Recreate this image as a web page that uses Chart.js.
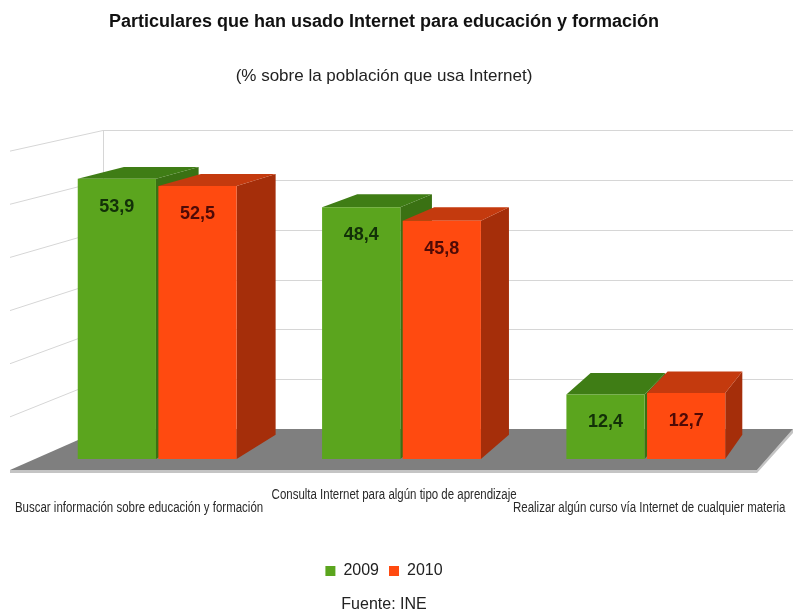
<!DOCTYPE html>
<html lang="es">
<head>
<meta charset="utf-8">
<title>Internet para educación y formación</title>
<script src="https://cdn.jsdelivr.net/npm/chart.js@4.4.1/dist/chart.umd.min.js"></script>
<style>
  html, body { margin: 0; padding: 0; background: #fff; }
</style>
</head>
<body>
<canvas id="chart" width="793" height="615"></canvas>
<script>
// Data
const categories = [
  'Buscar información sobre educación y formación',
  'Consulta Internet para algún tipo de aprendizaje',
  'Realizar algún curso vía Internet de cualquier materia'
];
const years = ['2009', '2010'];
const values2009 = [53.9, 48.4, 12.4];
const values2010 = [52.5, 45.8, 12.7];

// Colours for the front, top and right side of each bar
const palette = [
  { front: '#5ba51e', top: '#3f7d15', side: '#3a7113', text: '#123008' },
  { front: '#ff4a10', top: '#c43a0e', side: '#a52e0a', text: '#4f0a06' }
];

// Fake 3D: bar backs are pulled toward a vanishing point
const VP = { x: 1104, y: -82 };
const BAR_DEPTH = 0.955;
const back = (x, y) => [VP.x + (x - VP.x) * BAR_DEPTH, VP.y + (y - VP.y) * BAR_DEPTH];

const FONT = '"Liberation Sans", Arial, sans-serif';

function poly(ctx, pts, color) {
  ctx.beginPath();
  ctx.moveTo(pts[0][0], pts[0][1]);
  for (let i = 1; i < pts.length; i++) ctx.lineTo(pts[i][0], pts[i][1]);
  ctx.closePath();
  ctx.fillStyle = color;
  ctx.fill();
}

// Back wall, left wall and grey floor
function drawRoom(chart) {
  const { ctx, chartArea: a, scales: { y } } = chart;
  const base = y.getPixelForValue(0);
  const backY = v => base - 30 + (y.getPixelForValue(v) - base) * 0.958;
  const frontY = v => base + 11 + (y.getPixelForValue(v) - base) * 1.022;
  const wallX = a.left + 68, edgeX = a.left - 25;
  const floorRF = a.right - 11, floorRB = a.right + 25;

  ctx.save();
  ctx.strokeStyle = '#d6d6d6';
  ctx.lineWidth = 1;
  y.ticks.forEach(t => {
    if (t.value <= 0) return;
    const yb = Math.round(backY(t.value)) + 0.5;
    ctx.beginPath();
    ctx.moveTo(wallX, yb);
    ctx.lineTo(chart.width, yb);
    ctx.moveTo(edgeX, frontY(t.value));
    ctx.lineTo(wallX, yb);
    ctx.stroke();
  });
  ctx.beginPath();
  ctx.moveTo(Math.round(wallX) + 0.5, backY(y.max));
  ctx.lineTo(Math.round(wallX) + 0.5, backY(0));
  ctx.stroke();

  // floor edge, then floor
  poly(ctx, [[edgeX, base + 11], [floorRF, base + 11], [floorRB, base - 30],
             [floorRB, base - 26], [floorRF, base + 14], [edgeX, base + 14]], '#c4c4c4');
  poly(ctx, [[edgeX, base + 11], [floorRF, base + 11], [floorRB, base - 30], [wallX, base - 30]], '#7f7f7f');
  ctx.restore();
}

const bars3d = {
  id: 'bars3d',
  // Chart.js paints the last dataset first, so every top and side is laid
  // down here, left to right, before any front face.
  beforeDatasetsDraw(chart) {
    drawRoom(chart);
    const ctx = chart.ctx;
    const boxes = [];
    chart.data.datasets.forEach((ds, di) => {
      chart.getDatasetMeta(di).data.forEach(el => {
        const p = el.getProps(['x', 'y', 'base', 'width'], true);
        boxes.push({ ...p, col: palette[di] });
      });
    });
    boxes.sort((a, b) => a.x - b.x);
    ctx.save();
    boxes.forEach(({ x, y, base, width, col }) => {
      const l = x - width / 2, r = x + width / 2;
      poly(ctx, [[r, y], [r, base], back(r, base), back(r, y)], col.side);
      poly(ctx, [[l, y], [r, y], back(r, y), back(l, y)], col.top);
    });
    ctx.restore();
  },
  afterDatasetsDraw(chart) {
    const { ctx, scales: { x: xs, y: ys } } = chart;
    const base = ys.getPixelForValue(0);
    ctx.save();
    ctx.textAlign = 'center';
    ctx.textBaseline = 'middle';

    // values on the bar fronts
    ctx.font = 'bold 18px ' + FONT;
    chart.data.datasets.forEach((ds, di) => {
      const meta = chart.getDatasetMeta(di);
      meta.data.forEach((el, i) => {
        ctx.fillStyle = palette[di].text;
        ctx.fillText(ds.data[i].toFixed(1).replace('.', ','), el.x, el.y + 28);
      });
    });

    // category names on the front edge of the floor, staggered and condensed
    ctx.font = '14px ' + FONT;
    ctx.fillStyle = '#2a2a2a';
    categories.forEach((name, i) => {
      const gx = xs.getPixelForValue(i);
      const lx = 569 + (gx - 569) * 1.044;
      ctx.save();
      ctx.translate(lx, base + (i % 2 ? 36 : 49));
      ctx.scale(0.82, 1);
      ctx.fillText(name, 0, 0);
      ctx.restore();
    });
    ctx.restore();
  },
  afterDraw(chart) {
    const { ctx, legend } = chart;
    ctx.save();
    ctx.font = '16px ' + FONT;
    ctx.fillStyle = '#222';
    ctx.textAlign = 'center';
    ctx.textBaseline = 'middle';
    ctx.fillText('Fuente: INE', legend.left + legend.width / 2, 605);
    ctx.restore();
  }
};

new Chart(document.getElementById('chart'), {
  type: 'bar',
  data: {
    labels: categories,
    datasets: [
      { label: years[0], data: values2009, backgroundColor: palette[0].front, borderWidth: 0 },
      { label: years[1], data: values2010, backgroundColor: palette[1].front, borderWidth: 0 }
    ]
  },
  options: {
    responsive: false,
    animation: false,
    devicePixelRatio: 1,
    categoryPercentage: 0.66,
    barPercentage: 0.97,
    layout: { padding: { left: 0, right: 25, top: 0, bottom: 26 } },
    plugins: {
      title: {
        display: true,
        text: 'Particulares que han usado Internet para educación y formación',
        color: '#111',
        font: { family: FONT, size: 18, weight: 'bold' },
        padding: { top: 11, bottom: 34 }
      },
      subtitle: {
        display: true,
        text: '(% sobre la población que usa Internet)',
        color: '#222',
        font: { family: FONT, size: 17 },
        padding: { top: 0, bottom: 60 }
      },
      legend: {
        position: 'bottom',
        labels: { boxWidth: 10, boxHeight: 10, color: '#222', font: { family: FONT, size: 16 }, padding: 10 }
      },
      tooltip: { enabled: false }
    },
    scales: {
      x: {
        grid: { display: false },
        border: { display: false },
        ticks: { display: false },
        afterFit: s => { s.height = 94; }
      },
      y: {
        min: 0,
        max: 60,
        ticks: { display: false, stepSize: 10 },
        grid: { display: false },
        border: { display: false },
        afterFit: s => { s.width = 35; }
      }
    }
  },
  plugins: [bars3d]
});
</script>
</body>
</html>
